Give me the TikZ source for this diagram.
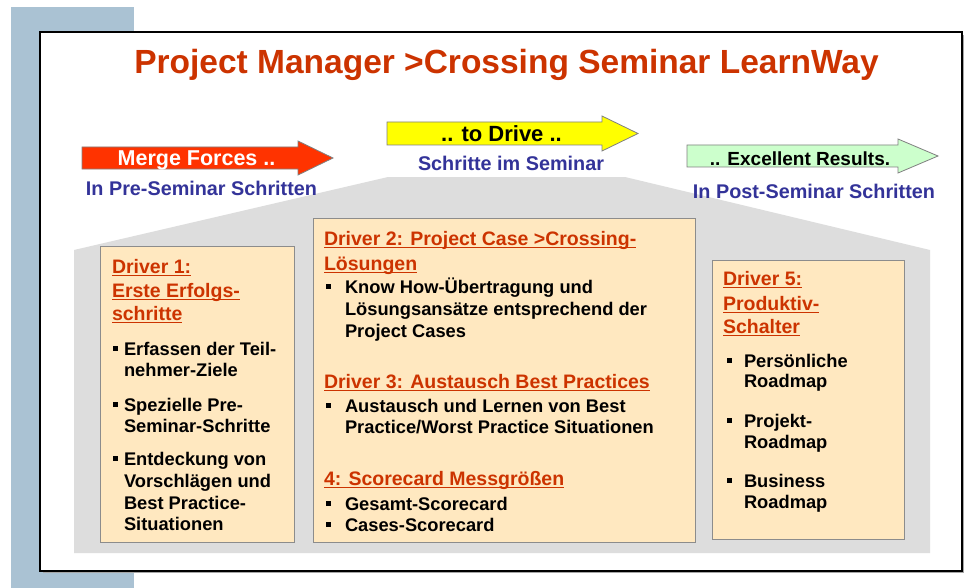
\documentclass[tikz,border=0pt]{standalone}
\usepackage{fontspec}
\setmainfont{Liberation Sans}
\definecolor{titlered}{HTML}{CC3300}
\definecolor{subblue}{HTML}{333399}
\definecolor{bluegray}{HTML}{AAC2D3}
\definecolor{housegray}{HTML}{DDDDDD}
\definecolor{boxfill}{HTML}{FFE8C0}
\definecolor{boxline}{HTML}{8C8C8C}
\definecolor{arrowred}{HTML}{FF3300}
\definecolor{arrowyellow}{HTML}{FFFF00}
\definecolor{arrowgreen}{HTML}{CCFFCC}
\newcommand{\hdfont}{\fontsize{19.5}{23}\selectfont}
\newcommand{\bdfont}{\fontsize{18.3}{21}\selectfont}
\newcommand{\blt}[1]{\rlap{\raisebox{4.3pt}{\rule{4.6pt}{4.6pt}}}\hspace{#1}}
\tikzset{
  lbl/.style={inner sep=0pt, outer sep=0pt},
  framebox/.style={lbl, draw=black, line width=1.3pt, fill=white},
  driverbox/.style={lbl, draw=boxline, line width=0.9pt, fill=boxfill},
  hd/.style={lbl, anchor=base west, text=titlered, font=\bfseries\hdfont},
  bd/.style={lbl, anchor=base west, font=\bfseries\bdfont},
  sub/.style={lbl, anchor=base, text=subblue, font=\bfseries\fontsize{19.8}{24}\selectfont},
  arrowshape/.style={draw=gray, line width=0.8pt},
  ul/.style={draw=titlered, line width=1.1pt}
}
\begin{document}
\begin{tikzpicture}[x=1pt,y=-1pt]
\useasboundingbox (0,0) rectangle (965,588);
% background L
\fill[bluegray] (11,7) rectangle (134,588);
\fill[gray!70] (43,35) rectangle (964,573);
\node[framebox, minimum width=922pt, minimum height=539pt] (frame) at (501,301.5) {};
% title
\node[lbl, anchor=base, text=titlered, font=\bfseries\fontsize{33.5}{40}\selectfont] (title) at (506.5,74) {Project Manager >Crossing Seminar LearnWay};
% house
\fill[housegray] (388,177) -- (625,177) -- (930,250) -- (930,553) -- (74,553) -- (74,250) -- cycle;
% arrows
\draw[arrowshape, fill=arrowred] (82,147) -- (298,147) -- (298,141) -- (333,158) -- (298,175) -- (298,169) -- (82,169) -- cycle;
\node[lbl, anchor=base, text=white, font=\bfseries\fontsize{21.5}{25}\selectfont] (merge) at (196.5,166) {Merge Forces ..};
\node[sub] (pre) at (201.5,195) {In Pre-Seminar Schritten};
\draw[arrowshape, fill=arrowyellow] (387,122) -- (602,122) -- (602,116) -- (638,133.5) -- (602,151) -- (602,145) -- (387,145) -- cycle;
\node[lbl, anchor=base, font=\bfseries\fontsize{22}{26}\selectfont] (drive) at (501.5,141.5) {.. to Drive ..};
\node[sub] (schritte) at (511,170.5) {Schritte im Seminar};
\draw[arrowshape, fill=arrowgreen] (687,145) -- (898,145) -- (898,139) -- (938,156) -- (898,173) -- (898,167) -- (687,167) -- cycle;
\node[lbl, anchor=base, font=\bfseries\fontsize{19}{23}\selectfont] (excellent) at (800,165) {.. Excellent Results.};
\node[sub] (post) at (814,198) {In Post-Seminar Schritten};
% boxes
\node[driverbox, minimum width=194pt, minimum height=296pt] (d1) at (197,394) {};
\node[driverbox, minimum width=382pt, minimum height=324pt] (d2) at (504,380) {};
\node[driverbox, minimum width=192pt, minimum height=279pt] (d5) at (808,399.5) {};
% box 1 text
\node[hd] (a1) at (112,273) {Driver 1:};
\node[hd] (a2) at (112,297) {Erste Erfolgs-};
\node[hd] (a3) at (112,320) {schritte};
\node[bd] (a4) at (113,355) {\blt{11pt}Erfassen der Teil-};
\node[bd] (a5) at (124,376) {nehmer-Ziele};
\node[bd] (a6) at (113,411) {\blt{11pt}Spezielle Pre-};
\node[bd] (a7) at (124,432) {Seminar-Schritte};
\node[bd] (a8) at (113,465) {\blt{11pt}Entdeckung von};
\node[bd] (a9) at (124,487) {Vorschlägen und};
\node[bd] (a10) at (124,509) {Best Practice-};
\node[bd] (a11) at (124,530) {Situationen};
% box 2 text
\node[hd] (b1) at (324,245) {Driver 2: Project Case >Crossing-};
\node[hd] (b2) at (324,270) {Lösungen};
\node[bd] (b3) at (326,293) {\blt{19pt}Know How-Übertragung und};
\node[bd] (b4) at (345,315) {Lösungsansätze entsprechend der};
\node[bd] (b5) at (345,337) {Project Cases};
\node[hd] (b6) at (324,388) {Driver 3: Austausch Best Practices};
\node[bd] (b7) at (326,412) {\blt{19pt}Austausch und Lernen von Best};
\node[bd] (b8) at (345,433) {Practice/Worst Practice Situationen};
\node[hd] (b9) at (324,485) {4: Scorecard Messgrößen};
\node[bd] (b10) at (326,510) {\blt{19pt}Gesamt-Scorecard};
\node[bd] (b11) at (326,531) {\blt{19pt}Cases-Scorecard};
% box 3 text
\node[hd] (c1) at (723,285) {Driver 5:};
\node[hd] (c2) at (723,310) {Produktiv-};
\node[hd] (c3) at (723,333) {Schalter};
\node[bd] (c4) at (727,367) {\blt{17pt}Persönliche};
\node[bd] (c5) at (744,387) {Roadmap};
\node[bd] (c6) at (727,427) {\blt{17pt}Projekt-};
\node[bd] (c7) at (744,448) {Roadmap};
\node[bd] (c8) at (727,487) {\blt{17pt}Business};
\node[bd] (c9) at (744,508) {Roadmap};
% underlines of headings
\foreach \n in {a1,a2,a3,b1,b2,b6,b9,c1,c2,c3}
  \draw[ul] ([yshift=-2.7pt]\n.base west) -- ([yshift=-2.7pt]\n.base east);
\end{tikzpicture}
\end{document}
